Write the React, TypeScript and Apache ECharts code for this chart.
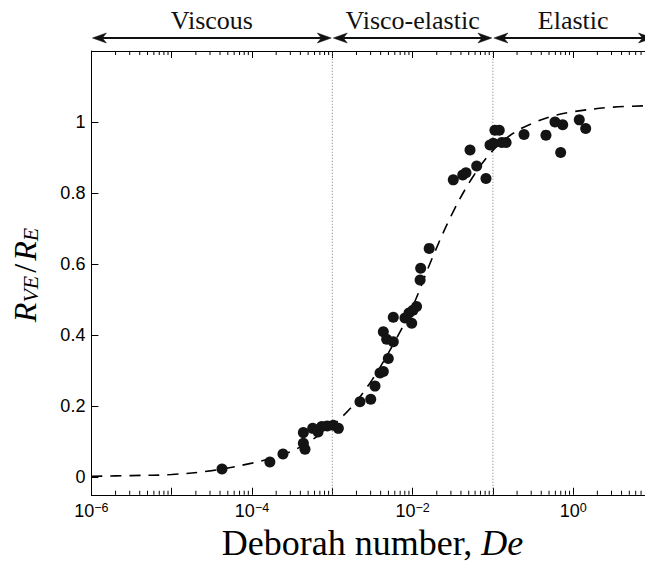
import React, { useEffect, useRef } from "react";
import * as echarts from "echarts";

// Measured points: Deborah number and R_VE / R_E
const deborah = [
  4.23e-5, 1.67e-4, 2.43e-4, 4.36e-4, 4.57e-4, 4.36e-4, 5.7e-4, 6.64e-4, 7.38e-4, 8.67e-4,
  1.03e-3, 1.19e-3, 2.21e-3, 3.01e-3, 3.4e-3, 3.93e-3, 4.32e-3, 4.98e-3, 4.32e-3, 4.75e-3,
  5.75e-3, 5.75e-3, 8.04e-3, 9.02e-3, 9.75e-3, 1.01e-2, 1.12e-2, 1.24e-2, 1.26e-2, 1.61e-2,
  3.21e-2, 4.21e-2, 4.62e-2, 5.19e-2, 6.28e-2, 8.2e-2, 9.2e-2, 0.101, 0.106, 0.12,
  0.129, 0.146, 0.244, 0.458, 0.593, 0.74, 0.698, 1.19, 1.43,
];
const ratio = [
  0.0225, 0.042, 0.065, 0.095, 0.078, 0.125, 0.137, 0.127, 0.142, 0.144,
  0.146, 0.137, 0.212, 0.219, 0.256, 0.293, 0.297, 0.334, 0.409, 0.388,
  0.381, 0.45, 0.448, 0.462, 0.433, 0.47, 0.48, 0.555, 0.588, 0.644,
  0.837, 0.851, 0.857, 0.921, 0.876, 0.841, 0.935, 0.94, 0.977, 0.977,
  0.942, 0.942, 0.965, 0.963, 1.0, 0.992, 0.914, 1.006, 0.982,
];

// Dashed fitted curve
const fitDe = [
  1e-6, 3.16e-6, 1e-5, 3.16e-5, 1e-4, 1.78e-4, 3.16e-4, 5.62e-4, 1e-3, 1.78e-3,
  3.16e-3, 5.62e-3, 1e-2, 1.78e-2, 3.16e-2, 5.62e-2, 0.1, 0.178, 0.316, 0.562,
  1, 3.16, 10,
];
const fitRatio = [
  0.002, 0.004, 0.007, 0.018, 0.039, 0.054, 0.073, 0.105, 0.145, 0.2,
  0.275, 0.37, 0.48, 0.62, 0.745, 0.845, 0.92, 0.968, 0.997, 1.017,
  1.029, 1.042, 1.046,
];

const yTicks = [0, 0.2, 0.4, 0.6, 0.8, 1];
const regionNames = ["Viscous", "Visco-elastic", "Elastic"];
const regionBounds = [1e-6, 1e-3, 1e-1, 10];
const dividers = [1e-3, 1e-1];
const xMin = 1e-6;
const xMax = 10;
const yMin = -0.05;
const yMax = 1.2;

const minorTicks: number[] = [];
for (let d = -6; d < 1; d++) {
  for (let k = 2; k <= 9; k++) minorTicks.push(k * Math.pow(10, d));
}

const SERIF = "'Liberation Serif', 'Times New Roman', serif";
const SANS = "'Liberation Sans', Arial, Helvetica, sans-serif";

export default function App() {
  const ref = useRef<HTMLDivElement>(null);
  useEffect(() => {
    if (!ref.current) return;
    const chart = echarts.init(ref.current, null, { renderer: "svg" });
    const option: any = {
      animation: false,
      backgroundColor: "#fff",
      grid: { left: 91.4, top: 51, width: 562.1, height: 443.75, containLabel: false },
      xAxis: [
        {
          type: "log",
          logBase: 10,
          min: xMin,
          max: xMax,
          splitNumber: 7,
          position: "bottom",
          axisLine: { show: true, onZero: false, lineStyle: { color: "#000", width: 1 } },
          axisTick: { show: true, inside: true, length: 7, lineStyle: { color: "#000", width: 1 } },
          splitLine: { show: false },
          axisLabel: {
            interval: 0,
            margin: 7,
            showMinLabel: true,
            showMaxLabel: true,
            formatter: (v: number) => {
              const e = Math.round(Math.log10(v));
              if (e % 2 !== 0) return "";
              const s = e < 0 ? "\u2212" + Math.abs(e) : String(e);
              return "{b|10}{s|" + s + "}";
            },
            rich: {
              b: { fontFamily: SANS, fontSize: 18, color: "#000", lineHeight: 18, padding: [7, 0, 0, 0], verticalAlign: "bottom" },
              s: { fontFamily: SANS, fontSize: 12.5, color: "#000", lineHeight: 13, verticalAlign: "top" },
            },
          },
          name: "{n|Deborah number, }{i|De}",
          nameLocation: "middle",
          nameGap: 29,
          nameTextStyle: {
            fontFamily: SERIF,
            fontSize: 36,
            color: "#000",
            rich: {
              n: { fontFamily: SERIF, fontSize: 36, color: "#000" },
              i: { fontFamily: SERIF, fontSize: 36, fontStyle: "italic", color: "#000" },
            },
          },
        },
        {
          type: "log",
          logBase: 10,
          min: xMin,
          max: xMax,
          splitNumber: 7,
          position: "top",
          axisLine: { show: true, onZero: false, lineStyle: { color: "#000", width: 1 } },
          axisTick: { show: true, inside: true, length: 7, lineStyle: { color: "#000", width: 1 } },
          axisLabel: { show: false },
          splitLine: { show: false },
        },
      ],
      yAxis: [
        {
          type: "value",
          min: yMin,
          max: yMax,
          axisLine: { show: true, onZero: false, lineStyle: { color: "#000", width: 1 } },
          axisTick: { show: true, inside: true, length: 7, customValues: yTicks, lineStyle: { color: "#000", width: 1 } },
          axisLabel: { customValues: yTicks, fontFamily: SANS, fontSize: 18, color: "#000", margin: 6 },
          splitLine: { show: false },
        },
      ],
      graphic: [
        {
          type: "text",
          x: 25,
          y: 275,
          rotation: Math.PI / 2,
          style: {
            text: "{r|R}{s|VE}{sl|/}{r|R}{s|E}",
            align: "center",
            verticalAlign: "middle",
            rich: {
              r: { fontFamily: SERIF, fontSize: 32, fontStyle: "italic", fill: "#000", lineHeight: 32, padding: [0, 0, 5, 0], verticalAlign: "top" },
              s: { fontFamily: SERIF, fontSize: 22, fontStyle: "italic", fill: "#000", lineHeight: 22, verticalAlign: "bottom" },
              sl: { fontFamily: SERIF, fontSize: 32, fill: "#000", lineHeight: 32, padding: [0, 3, 5, 3], verticalAlign: "top" },
            },
          },
        },
      ],
      series: [
        {
          type: "custom",
          name: "minorTicks",
          silent: true,
          clip: false,
          data: minorTicks.map((v) => [v, 0]),
          encode: { x: 0, y: 1 },
          renderItem: (_p: any, api: any) => {
            const v = api.value(0);
            const b = api.coord([v, yMin]);
            const t = api.coord([v, yMax]);
            const st = { stroke: "#000", lineWidth: 1 };
            return {
              type: "group",
              children: [
                { type: "line", shape: { x1: b[0], y1: b[1], x2: b[0], y2: b[1] - 4 }, style: st },
                { type: "line", shape: { x1: t[0], y1: t[1], x2: t[0], y2: t[1] + 4 }, style: st },
              ],
            };
          },
          z: 1,
        },
        {
          type: "custom",
          name: "dividers",
          silent: true,
          clip: false,
          data: dividers.map((d) => [d, yMin, yMax]),
          encode: { x: 0, y: [1, 2] },
          renderItem: (_p: any, api: any) => {
            const b = api.coord([api.value(0), api.value(1)]);
            const t = api.coord([api.value(0), api.value(2)]);
            return {
              type: "line",
              shape: { x1: b[0], y1: b[1], x2: t[0], y2: t[1] },
              style: { stroke: "#777", lineWidth: 1, lineDash: [1, 2] },
            };
          },
          z: 1,
        },
        {
          type: "custom",
          name: "regions",
          silent: true,
          clip: false,
          data: regionNames.map((_n, i) => [regionBounds[i], regionBounds[i + 1], yMax]),
          encode: { x: [0, 1], y: 2 },
          renderItem: (p: any, api: any) => {
            const a = api.coord([api.value(0), api.value(2)]);
            const b = api.coord([api.value(1), api.value(2)]);
            const y = a[1] - 13;
            const L = 14;
            const W = 5;
            const inner = 10;
            const x0 = a[0] + 1;
            const x1 = b[0] - 1;
            const fill = { fill: "#111", stroke: "#111", lineWidth: 0.5 };
            return {
              type: "group",
              children: [
                { type: "line", shape: { x1: x0 + inner, y1: y, x2: x1 - inner, y2: y }, style: { stroke: "#111", lineWidth: 2 } },
                { type: "polygon", shape: { points: [[x0, y], [x0 + L, y - W], [x0 + inner, y], [x0 + L, y + W]] }, style: fill },
                { type: "polygon", shape: { points: [[x1, y], [x1 - L, y - W], [x1 - inner, y], [x1 - L, y + W]] }, style: fill },
                {
                  type: "text",
                  x: (a[0] + b[0]) / 2,
                  y: y - 18,
                  style: {
                    text: regionNames[p.dataIndex],
                    fontFamily: SERIF,
                    fontSize: 26,
                    fill: "#111",
                    align: "center",
                    verticalAlign: "middle",
                  },
                },
              ],
            };
          },
        },
        {
          type: "line",
          name: "fit",
          data: fitDe.map((x, i) => [x, fitRatio[i]]),
          showSymbol: false,
          smooth: 0.35,
          silent: true,
          lineStyle: { color: "#000", width: 1.6, type: [11, 8] },
          z: 2,
        },
        {
          type: "scatter",
          name: "data",
          data: deborah.map((x, i) => [x, ratio[i]]),
          symbol: "circle",
          symbolSize: 11,
          itemStyle: { color: "#141414", opacity: 1 },
          z: 3,
        },
      ],
    };
    chart.setOption(option);
    return () => chart.dispose();
  }, []);
  return (
    <div style={{ position: "fixed", left: 0, top: 0, width: 645, height: 569, overflow: "hidden", background: "#fff" }}>
      <div ref={ref} style={{ width: 662, height: 569 }} />
    </div>
  );
}
